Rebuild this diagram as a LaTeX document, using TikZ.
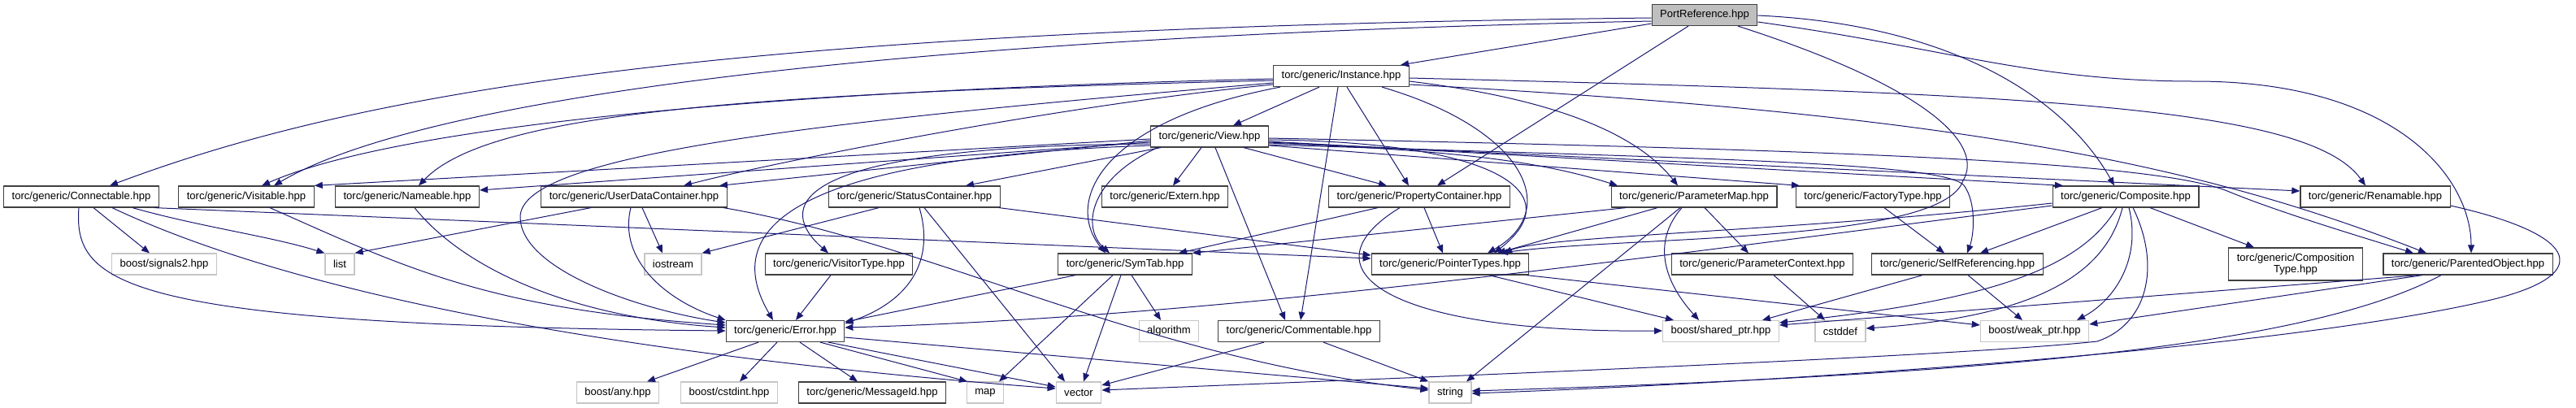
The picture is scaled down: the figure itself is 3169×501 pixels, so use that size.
\documentclass[tikz,border=0pt]{standalone}
\usepackage{fontspec}
\setmainfont{Liberation Sans}
\usepackage{tikz}
\usetikzlibrary{arrows.meta}
\definecolor{depblue}{RGB}{25, 25, 112}
\definecolor{rootgray}{RGB}{191, 191, 191}

\begin{document}
\begin{tikzpicture}[
  x=0.75pt, y=-0.75pt,
  every node/.style={font=\fontsize{9.8}{11}\selectfont},
  hdr/.style={draw=black!75, fill=white, line width=0.9pt, inner xsep=7.5pt, inner ysep=2pt, minimum height=19.5pt},
  ext/.style={hdr, draw=gray!45},
  root/.style={hdr, fill=rootgray},
  dep/.style={-{Triangle[length=7.5pt, width=6pt]}, draw=depblue, line width=0.75pt}
]
  \useasboundingbox (0,0) rectangle (3169,501);

  \node[root] (pr) at (2097, 18.5) {PortReference.hpp};
  \node[hdr] (inst) at (1650, 93.5) {torc/generic/Instance.hpp};
  \node[hdr] (view) at (1488, 168) {torc/generic/View.hpp};

  \node[hdr] (conn) at (100, 242) {torc/generic/Connectable.hpp};
  \node[hdr] (visit) at (303, 242) {torc/generic/Visitable.hpp};
  \node[hdr] (name) at (501, 242) {torc/generic/Nameable.hpp};
  \node[hdr] (udc) at (780, 242) {torc/generic/UserDataContainer.hpp};
  \node[hdr] (status) at (1125, 242) {torc/generic/StatusContainer.hpp};
  \node[hdr] (extern) at (1433, 242) {torc/generic/Extern.hpp};
  \node[hdr] (propc) at (1746, 242) {torc/generic/PropertyContainer.hpp};
  \node[hdr] (pmap) at (2084, 242) {torc/generic/ParameterMap.hpp};
  \node[hdr] (factory) at (2304, 242) {torc/generic/FactoryType.hpp};
  \node[hdr] (comp) at (2615, 242) {torc/generic/Composite.hpp};
  \node[hdr] (renam) at (2922, 242) {torc/generic/Renamable.hpp};

  \node[ext] (signals) at (202, 325) {boost/signals2.hpp};
  \node[ext] (list) at (418, 325) {list};
  \node[ext] (iostream) at (828, 325) {iostream};
  \node[hdr] (visitor) at (1032, 325) {torc/generic/VisitorType.hpp};
  \node[hdr] (symtab) at (1384, 325) {torc/generic/SymTab.hpp};
  \node[hdr] (ptrt) at (1784, 325) {torc/generic/PointerTypes.hpp};
  \node[hdr] (pctx) at (2168, 325) {torc/generic/ParameterContext.hpp};
  \node[hdr] (selfref) at (2408, 325) {torc/generic/SelfReferencing.hpp};
  \node[hdr, align=center, minimum height=30pt] (comptype) at (2824, 325) {torc/generic/Composition\\Type.hpp};
  \node[hdr] (parented) at (3036, 325) {torc/generic/ParentedObject.hpp};

  \node[hdr] (error) at (966, 407.5) {torc/generic/Error.hpp};
  \node[ext] (algo) at (1438, 407.5) {algorithm};
  \node[hdr] (comment) at (1598, 407.5) {torc/generic/Commentable.hpp};
  \node[ext] (shared) at (2117, 407.5) {boost/shared\_ptr.hpp};
  \node[ext] (cstddef) at (2264, 407.5) {cstddef};
  \node[ext] (weak) at (2503, 407.5) {boost/weak\_ptr.hpp};

  \node[ext] (any) at (760, 483) {boost/any.hpp};
  \node[ext] (cstdint) at (897, 483) {boost/cstdint.hpp};
  \node[hdr] (msgid) at (1073, 483) {torc/generic/MessageId.hpp};
  \node[ext] (map) at (1212, 483) {map};
  \node[ext] (vector) at (1327, 483) {vector};
  \node[ext] (string) at (1784, 483) {string};

  \draw[dep] (pr.west |- 0,22) .. controls (900,35) and (450,110) .. (135,0 |- conn.north);
  \draw[dep] (pr.west |- 0,26) .. controls (1100,45) and (520,120) .. (337,0 |- visit.north);
  \draw[dep] (pr.west |- 0,29) -- (1723,0 |- inst.north);
  \draw[dep] (2077,0 |- pr.south) -- (1768,0 |- propc.north);
  \draw[dep] (pr.east |- 0,19) .. controls (2400,30) and (2540,120) .. (2601,0 |- comp.north);
  \draw[dep] (pr.east |- 0,27) .. controls (2400,60) and (2500,100) .. (2700,100) .. controls (2950,100) and (3040,220) .. (3040,0 |- parented.north);
  \draw[dep] (2138,0 |- pr.south) .. controls (2380,110) and (2440,180) .. (2415,222) .. controls (2390,300) and (2000,290) .. (1845,0 |- ptrt.north);

  \draw[dep] (1623,0 |- inst.south) -- (1517,0 |- view.north);
  \draw[dep] (inst.west |- 0,97) .. controls (1000,110) and (500,150) .. (322,0 |- visit.north);
  \draw[dep] (inst.west |- 0,99) .. controls (900,115) and (600,140) .. (515,0 |- name.north);
  \draw[dep] (inst.west |- 0,102) .. controls (1000,150) and (640,190) .. (640,267) .. controls (640,330) and (780,380) .. (error.west |- 0,397);
  \draw[dep] (inst.west |- 0,104) .. controls (1300,130) and (950,200) .. (841,0 |- udc.north);
  \draw[dep] (1575,0 |- inst.south) .. controls (1350,150) and (1310,250) .. (1360,0 |- symtab.north);
  \draw[dep] (1646,0 |- inst.south) -- (1600,0 |- comment.north);
  \draw[dep] (1657,0 |- inst.south) -- (1733,0 |- propc.north);
  \draw[dep] (1700,0 |- inst.south) .. controls (1880,160) and (1920,260) .. (1830,0 |- ptrt.north);
  \draw[dep] (inst.east |- 0,100) .. controls (1900,120) and (2010,160) .. (2064,0 |- pmap.north);
  \draw[dep] (inst.east |- 0,96) .. controls (2500,115) and (2840,130) .. (2910,0 |- renam.north);
  \draw[dep] (inst.east |- 0,104) .. controls (2400,140) and (2700,200) .. (2985,0 |- parented.north);

  \draw[dep] (view.west |- 0,173) -- (885,0 |- udc.north);
  \draw[dep] (view.west |- 0,171) -- (visit.north east);
  \draw[dep] (view.west |- 0,175) -- (name.east |- 0,234);
  \draw[dep] (1428,0 |- view.south) -- (1188,0 |- status.north);
  \draw[dep] (1478,0 |- view.south) -- (1443,0 |- extern.north);
  \draw[dep] (view.west |- 0,177) .. controls (950,180) and (960,260) .. (1019,0 |- visitor.north);
  \draw[dep] (view.west |- 0,179) .. controls (950,195) and (890,290) .. (951,0 |- error.north);
  \draw[dep] (1424,0 |- view.south) .. controls (1340,220) and (1330,280) .. (1365,0 |- symtab.north);
  \draw[dep] (1495,0 |- view.south) -- (1581,0 |- comment.north);
  \draw[dep] (1530,0 |- view.south) -- (1706,0 |- propc.north);
  \draw[dep] (view.east |- 0,172) .. controls (1850,175) and (1930,240) .. (1838,0 |- ptrt.north);
  \draw[dep] (view.east |- 0,176) .. controls (1800,185) and (1900,200) .. (1990,0 |- pmap.north);
  \draw[dep] (view.east |- 0,179) -- (2214,0 |- factory.north);
  \draw[dep] (view.east |- 0,174) -- (2538,0 |- comp.north);
  \draw[dep] (view.east |- 0,175) -- (renam.west |- 0,235);
  \draw[dep] (view.east |- 0,170) .. controls (2300,185) and (2650,200) .. (2740,235) .. controls (2800,260) and (2900,290) .. (2969,0 |- parented.north);
  \draw[dep] (view.east |- 0,178) .. controls (2100,195) and (2390,200) .. (2416,228) .. controls (2432,250) and (2428,290) .. (2420,0 |- selfref.north);

  \draw[dep] (115,0 |- conn.south) -- (184,0 |- signals.north);
  \draw[dep] (163,0 |- conn.south) .. controls (250,280) and (330,290) .. (list.north west);
  \draw[dep] (190,0 |- conn.south) -- (ptrt.west |- 0,318);
  \draw[dep] (97,0 |- conn.south) .. controls (90,350) and (150,400) .. (error.west |- 0,407);
  \draw[dep] (138,0 |- conn.south) .. controls (380,370) and (800,440) .. (vector.west |- 0,478);
  \draw[dep] (332,0 |- visit.south) .. controls (500,330) and (600,380) .. (error.west |- 0,400);
  \draw[dep] (510,0 |- name.south) .. controls (570,330) and (700,390) .. (error.west |- 0,403);
  \draw[dep] (776,0 |- udc.south) .. controls (760,320) and (820,370) .. (error.north west);
  \draw[dep] (727,0 |- udc.south) -- (list.north east);
  \draw[dep] (790,0 |- udc.south) -- (815,0 |- iostream.north);
  \draw[dep] (890,0 |- udc.south) .. controls (1150,300) and (1400,440) .. (string.west |- 0,480);
  \draw[dep] (1081,0 |- status.south) -- (iostream.north east);
  \draw[dep] (1131,0 |- status.south) .. controls (1150,320) and (1120,370) .. (error.east |- 0,398);
  \draw[dep] (1137,0 |- status.south) -- (1310,0 |- vector.north);
  \draw[dep] (1229,0 |- status.south) -- (ptrt.west |- 0,314);
  \draw[dep] (1752,0 |- propc.south) -- (1775,0 |- ptrt.north);
  \draw[dep] (1695,0 |- propc.south) -- (1450,0 |- symtab.north);
  \draw[dep] (1722,0 |- propc.south) .. controls (1600,330) and (1700,410) .. (shared.west |- 0,407);
  \draw[dep] (2000,0 |- pmap.south) -- (symtab.north east);
  \draw[dep] (2039,0 |- pmap.south) -- (1842,0 |- ptrt.north);
  \draw[dep] (2097,0 |- pmap.south) -- (2151,0 |- pctx.north);
  \draw[dep] (2069,0 |- pmap.south) .. controls (2030,300) and (2050,350) .. (2090,0 |- shared.north);
  \draw[dep] (2067,0 |- pmap.south) -- (1804,0 |- string.north);
  \draw[dep] (2318,0 |- factory.south) -- (2392,0 |- selfref.north);
  \draw[dep] (2586,0 |- comp.south) -- (2436,0 |- selfref.north);
  \draw[dep] (2645,0 |- comp.south) -- (2773,0 |- comptype.north);
  \draw[dep] (comp.west |- 0,250) .. controls (2200,285) and (1900,290) .. (1850,0 |- ptrt.north);
  \draw[dep] (comp.west |- 0,253) .. controls (2000,320) and (1500,390) .. (error.east |- 0,403);
  \draw[dep] (2604,0 |- comp.south) .. controls (2560,330) and (2450,370) .. (shared.east |- 0,397);
  \draw[dep] (2611,0 |- comp.south) .. controls (2590,340) and (2500,390) .. (cstddef.east |- 0,404);
  \draw[dep] (2619,0 |- comp.south) .. controls (2635,320) and (2600,370) .. (2555,0 |- weak.north);
  \draw[dep] (2624,0 |- comp.south) .. controls (2660,330) and (2640,400) .. (2580,420) .. controls (2400,440) and (1600,470) .. (vector.east |- 0,480);
  \draw[dep] (renam.east |- 0,253) .. controls (3180,290) and (3190,340) .. (3060,370) .. controls (2800,430) and (2200,470) .. (string.east |- 0,484);

  \draw[dep] (1323,0 |- symtab.south) -- (error.east |- 0,396);
  \draw[dep] (1392,0 |- symtab.south) -- (1428,0 |- algo.north);
  \draw[dep] (1369,0 |- symtab.south) -- (1229,0 |- map.north);
  \draw[dep] (1379,0 |- symtab.south) -- (1333,0 |- vector.north);
  \draw[dep] (1022,0 |- visitor.south) -- (979,0 |- error.north);
  \draw[dep] (1832,0 |- ptrt.south) -- (2059,0 |- shared.north);
  \draw[dep] (1878,0 |- ptrt.south) -- (weak.west |- 0,400);
  \draw[dep] (2182,0 |- pctx.south) -- (2245,0 |- cstddef.north);
  \draw[dep] (2365,0 |- selfref.south) -- (2168,0 |- shared.north);
  \draw[dep] (2421,0 |- selfref.south) -- (2488,0 |- weak.north);
  \draw[dep] (2975,0 |- parented.south) -- (shared.east |- 0,400);
  \draw[dep] (2980,0 |- parented.south) -- (weak.east |- 0,399);
  \draw[dep] (3003,0 |- parented.south) .. controls (2850,420) and (2500,460) .. (string.east |- 0,481);

  \draw[dep] (933,0 |- error.south) -- (796,0 |- any.north);
  \draw[dep] (956,0 |- error.south) -- (910,0 |- cstdint.north);
  \draw[dep] (984,0 |- error.south) -- (1055,0 |- msgid.north);
  \draw[dep] (1009,0 |- error.south) -- (1190,0 |- map.north);
  \draw[dep] (1019,0 |- error.south) -- (vector.west |- 0,476);
  \draw[dep] (error.east |- 0,415) -- (string.west |- 0,478);
  \draw[dep] (1555,0 |- comment.south) -- (vector.east |- 0,474);
  \draw[dep] (1628,0 |- comment.south) -- (string.north west);

\end{tikzpicture}
\end{document}
